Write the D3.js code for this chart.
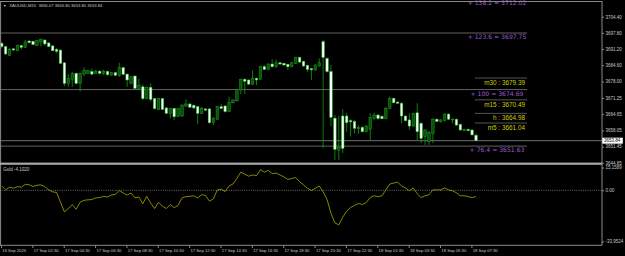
<!DOCTYPE html>
<html><head><meta charset="utf-8">
<script src="https://cdnjs.cloudflare.com/ajax/libs/d3/7.8.5/d3.min.js"></script>
<style>
html,body{margin:0;padding:0;background:#000;overflow:hidden}
svg{display:block}
text{font-family:"Liberation Sans",Arial,sans-serif}
</style></head><body>
<svg id="c" width="625" height="256"></svg>
<script>
const chartTitle = "XAUUSD,M15  3656.07 3656.80 3653.80 3653.84";
const oscTitle = "Gold -4.1020";
const opens = [3693.6,3692.2,3688.7,3691.3,3690.5,3692.6,3691.9,3694.5,3694.4,3692.6,3694.1,3694.9,3693.7,3692.5,3691.1,3690.8,3685.6,3677.2,3678.9,3681.3,3677.2,3681.0,3681.3,3682.0,3681.3,3682.2,3681.3,3682.1,3680.6,3681.6,3680.5,3683.6,3681.0,3677.2,3680.2,3675.2,3675.8,3671.0,3675.6,3671.0,3666.6,3671.0,3667.2,3665.0,3667.0,3663.6,3663.9,3668.0,3668.8,3668.3,3667.7,3665.0,3666.8,3666.8,3661.2,3662.6,3667.7,3668.0,3665.7,3669.3,3670.1,3674.5,3678.9,3678.6,3676.9,3679.3,3678.9,3684.0,3682.9,3685.1,3684.0,3685.6,3685.4,3685.0,3684.0,3685.4,3687.8,3686.2,3684.6,3683.2,3682.7,3684.3,3694.2,3687.4,3682.0,3663.0,3650.0,3663.9,3663.9,3662.0,3661.6,3658.7,3659.3,3657.5,3658.5,3663.0,3664.3,3663.7,3662.8,3667.0,3671.1,3669.6,3669.1,3663.9,3662.3,3659.8,3665.2,3660.9,3655.5,3653.4,3656.8,3662.6,3661.6,3662.0,3664.7,3662.3,3662.6,3660.5,3657.9,3658.5,3658.2,3656.07];
const highs = [3694.1,3692.5,3691.6,3691.6,3693.1,3692.9,3694.9,3694.7,3694.6,3694.9,3695.5,3695.1,3693.9,3692.7,3691.6,3691.0,3685.9,3681.0,3682.0,3681.6,3681.6,3683.8,3682.7,3683.3,3682.7,3682.5,3682.7,3682.3,3681.8,3681.8,3685.6,3683.9,3681.2,3680.2,3680.4,3679.1,3676.8,3675.9,3677.2,3671.2,3671.2,3671.2,3667.4,3667.2,3667.2,3667.2,3668.6,3670.7,3669.2,3668.6,3668.0,3667.6,3667.0,3667.0,3663.5,3668.0,3668.8,3668.2,3671.8,3670.8,3675.1,3679.2,3679.2,3678.8,3682.5,3679.6,3684.3,3684.8,3685.4,3687.0,3687.0,3686.0,3685.6,3685.2,3685.9,3688.1,3688.1,3686.5,3684.8,3683.5,3685.0,3687.4,3694.9,3687.8,3684.7,3664.3,3663.9,3666.6,3665.2,3662.6,3662.3,3660.2,3659.8,3660.2,3665.0,3665.2,3664.7,3664.3,3667.7,3671.8,3671.4,3669.8,3669.6,3664.1,3665.0,3665.2,3669.1,3661.5,3658.6,3657.8,3663.0,3662.9,3662.6,3665.0,3665.0,3663.0,3662.8,3660.8,3658.7,3658.7,3658.5,3656.80];
const lows = [3691.6,3688.8,3688.4,3690.4,3690.4,3691.1,3691.6,3693.6,3692.9,3692.5,3692.2,3692.5,3692.0,3690.4,3689.5,3685.1,3676.1,3675.8,3675.8,3676.9,3673.8,3680.2,3681.0,3680.5,3681.0,3680.8,3680.6,3680.4,3680.4,3680.2,3679.9,3680.6,3675.8,3676.9,3674.9,3675.0,3670.4,3670.7,3669.7,3666.6,3666.4,3666.4,3664.7,3663.0,3662.3,3663.5,3663.5,3667.5,3667.2,3666.7,3660.6,3664.7,3665.9,3660.6,3660.2,3662.3,3666.8,3665.3,3665.5,3669.0,3669.8,3672.9,3672.9,3676.5,3676.5,3676.5,3678.6,3682.7,3682.7,3683.7,3683.4,3684.7,3684.5,3682.7,3683.8,3685.1,3685.6,3684.0,3681.8,3678.6,3682.3,3684.0,3650.9,3681.6,3659.8,3646.0,3646.0,3648.7,3657.5,3655.5,3656.8,3656.6,3657.2,3657.2,3654.1,3662.3,3662.3,3662.5,3662.6,3666.6,3669.1,3668.8,3660.9,3661.7,3658.2,3659.5,3654.1,3652.8,3652.1,3652.1,3652.8,3661.5,3661.2,3661.7,3662.3,3660.9,3659.9,3657.9,3657.7,3657.7,3655.9,3653.80];
const closes = [3692.2,3689.2,3691.1,3690.8,3692.7,3691.9,3694.1,3693.8,3693.0,3694.6,3695.1,3693.3,3692.2,3690.5,3690.3,3685.4,3677.2,3679.1,3681.3,3677.2,3681.3,3682.4,3682.4,3681.0,3682.2,3681.3,3682.2,3680.7,3681.6,3680.5,3683.6,3680.9,3678.6,3679.9,3675.2,3676.5,3671.0,3675.6,3670.7,3666.9,3671.0,3666.6,3665.0,3666.9,3663.6,3666.9,3668.4,3668.8,3667.5,3667.2,3665.0,3667.0,3666.3,3661.2,3663.0,3667.7,3667.0,3665.7,3669.5,3670.4,3674.8,3678.9,3678.1,3676.9,3679.3,3678.6,3684.0,3682.9,3685.1,3684.0,3685.6,3685.1,3684.7,3684.0,3685.6,3687.8,3685.9,3684.3,3682.9,3682.7,3684.7,3685.6,3687.8,3682.0,3663.4,3650.3,3651.1,3650.7,3661.2,3661.5,3658.9,3659.3,3657.5,3659.8,3663.4,3664.3,3662.9,3662.8,3666.9,3671.1,3669.3,3669.1,3663.9,3662.0,3659.8,3665.0,3657.5,3654.8,3658.2,3657.1,3662.6,3661.7,3662.3,3664.7,3662.6,3662.6,3660.2,3658.2,3658.5,3657.9,3656.2,3653.84];
const oscValues = [2.9,0.3,2.1,1.4,2.5,2.1,4.0,3.7,2.5,3.4,3.6,2.5,0.3,-1.0,-1.4,-7.9,-14.3,-12.1,-9.4,-12.6,-7.9,-6.6,-6.3,-6.1,-5.0,-4.8,-4.0,-4.4,-3.1,-2.7,-0.1,-1.8,-3.1,-1.8,-5.0,-4.4,-8.9,-4.0,-8.3,-12.1,-7.9,-10.5,-12.1,-9.4,-11.5,-10.0,-5.0,-4.2,-4.0,-3.6,-5.0,-2.9,-3.4,-7.2,-5.7,0.3,0.8,-0.8,2.9,4.2,7.9,12.1,10.7,9.4,10.2,9.8,13.7,12.1,13.2,11.1,11.5,10.2,8.9,7.2,7.9,8.5,5.7,3.6,1.4,-0.1,1.4,2.9,-1.0,-6.1,-15.2,-21.6,-22.9,-17.8,-13.9,-11.3,-10.0,-8.7,-9.4,-8.1,-4.8,-3.6,-4.2,-3.6,0.3,4.2,4.8,5.5,2.9,1.6,-0.3,1.6,-2.3,-4.8,-3.6,-2.9,0.3,0.3,0.3,1.6,0.3,-0.3,-1.6,-3.6,-3.6,-4.2,-4.8,-4.102];
const timeLabels = ["16 Sep 2025","17 Sep 02:30","17 Sep 04:30","17 Sep 06:30","17 Sep 08:30","17 Sep 10:30","17 Sep 12:30","17 Sep 14:30","17 Sep 16:30","17 Sep 18:30","17 Sep 20:30","17 Sep 22:30","18 Sep 01:30","18 Sep 03:30","18 Sep 05:30","18 Sep 07:30"];
const timeLabelBars = [0,8,16,24,32,40,48,56,64,72,80,88,96,104,112,120];
const priceTicks = [3704.40,3697.80,3691.20,3684.60,3678.00,3671.25,3664.65,3658.05,3651.45,3644.85];
const oscTicks = [15.1589,0,-33.9524];
const oscTickLabels = ["15.1589","0.00","-33.9524"];
const fibLevels = ["138.2","123.6","100","76.4"];
const fibPrices = [3712.02,3697.75,3674.69,3651.63];
const markNames = ["m30","m15","h","m5"];
const markPrices = [3679.39,3670.49,3664.98,3661.04];
const lastPrice = 3653.84;

const svg = d3.select("#c");
const AX = 602, mainTop = 1.5, mainBot = 162.5, subBot = 245.3;
const gray = "#8a8a8a", txt = "#c8c8c8";
const x = d3.scaleLinear().domain([0, opens.length - 1]).range([1.7, 476.02]);
const y = d3.scaleLinear().domain([3644.94, 3710.60]).range([mainBot, mainTop]);
const yo = d3.scaleLinear().domain([-33.9524, 15.1589]).range([241.5, 167.5]);

svg.append("rect").attr("width", 625).attr("height", 256).attr("fill", "#000");
svg.append("clipPath").attr("id", "cm").append("rect")
  .attr("x", 0).attr("y", mainTop).attr("width", AX).attr("height", mainBot - mainTop);
const main = svg.append("g").attr("clip-path", "url(#cm)");

// fib levels
main.selectAll("line.fib").data(fibPrices).join("line")
  .attr("x1", 0).attr("x2", 527).attr("y1", d => y(d)).attr("y2", d => y(d))
  .attr("stroke", "#7a7a7a").attr("stroke-width", 0.8);
// marker lines
main.selectAll("line.mk").data(markPrices).join("line")
  .attr("x1", 475).attr("x2", 527).attr("y1", d => y(d)).attr("y2", d => y(d))
  .attr("stroke", "#6a6a6a").attr("stroke-width", 0.8);
// current price line
main.append("line").attr("x1", 0).attr("x2", AX).attr("y1", y(lastPrice)).attr("y2", y(lastPrice))
  .attr("stroke", "#8a8a8a").attr("stroke-width", 0.8);

// candles
const idx = d3.range(opens.length);
main.selectAll("line.w").data(idx).join("line")
  .attr("x1", i => x(i)).attr("x2", i => x(i))
  .attr("y1", i => y(highs[i])).attr("y2", i => y(lows[i]))
  .attr("stroke", "#12a012").attr("stroke-width", 0.8);
main.selectAll("rect.b").data(idx).join("rect")
  .attr("x", i => x(i) - 1.25).attr("width", 2.5)
  .attr("y", i => y(Math.max(opens[i], closes[i])))
  .attr("height", i => Math.max(0.8, Math.abs(y(opens[i]) - y(closes[i]))))
  .attr("fill", i => closes[i] < opens[i] ? "#f4fff4" : "#0a500a")
  .attr("stroke", i => closes[i] < opens[i] ? "#30c030" : "#18a018")
  .attr("stroke-width", 0.5);

// fib labels (the top one sits at the window edge, as in the reference)
svg.selectAll("text.fib").data(fibLevels).join("text")
  .attr("x", 497).attr("y", (d, i) => Math.max(y(fibPrices[i]) + 6.3, 5.2))
  .attr("text-anchor", "middle").attr("fill", "#a05ad2")
  .style("font-family", "'DejaVu Sans',sans-serif").style("font-size", "6.1px")
  .text((d, i) => "+ " + d + " = " + fibPrices[i].toFixed(2));
// marker labels
svg.selectAll("text.mk").data(markNames).join("text")
  .attr("x", 525).attr("y", (d, i) => y(markPrices[i]) + 6.9)
  .attr("text-anchor", "end").attr("fill", "#cccc00")
  .style("font-size", "6.4px")
  .text((d, i) => d + " : " + markPrices[i].toFixed(2));

// frame
svg.append("line").attr("x1", 0).attr("x2", AX).attr("y1", mainTop).attr("y2", mainTop).attr("stroke", gray).attr("stroke-width", 1);
svg.append("line").attr("x1", 0.6).attr("x2", 0.6).attr("y1", mainTop).attr("y2", subBot).attr("stroke", gray).attr("stroke-width", 1);
svg.append("line").attr("x1", AX).attr("x2", AX).attr("y1", 1).attr("y2", subBot).attr("stroke", gray).attr("stroke-width", 1);
svg.append("rect").attr("x", 0).attr("y", 162.6).attr("width", AX).attr("height", 2.2).attr("fill", "#a8a8a8");
svg.append("line").attr("x1", 0).attr("x2", AX).attr("y1", subBot).attr("y2", subBot).attr("stroke", gray).attr("stroke-width", 1);

// price axis
const pa = svg.append("g").attr("transform", `translate(${AX},0)`)
  .call(d3.axisRight(y).tickValues(priceTicks).tickFormat(d3.format(".2f")).tickSize(2).tickSizeOuter(0).tickPadding(1.5));
pa.select(".domain").remove();
pa.selectAll("line").attr("stroke", gray);
pa.selectAll("text").attr("fill", txt).style("font-size", "4.5px").style("font-family", "'Liberation Sans',Arial,sans-serif");

// last price box
svg.append("rect").attr("x", 602.3).attr("y", y(lastPrice) - 3).attr("width", 20.5).attr("height", 6).attr("fill", "#fff");
svg.append("text").attr("x", 604).attr("y", y(lastPrice) + 1.6).attr("fill", "#000").style("font-size", "4.5px").text(lastPrice.toFixed(2));

// oscillator panel
svg.append("line").attr("x1", 0).attr("x2", AX).attr("y1", yo(0)).attr("y2", yo(0))
  .attr("stroke", "#b0b0b0").attr("stroke-width", 0.6).attr("stroke-dasharray", "1,1.2");
svg.append("path").datum(oscValues)
  .attr("d", d3.line().x((d, i) => x(i)).y(d => yo(d)))
  .attr("fill", "none").attr("stroke", "#a8a800").attr("stroke-width", 0.8);
const oa = svg.append("g").attr("transform", `translate(${AX},0)`)
  .call(d3.axisRight(yo).tickValues(oscTicks).tickFormat((d, i) => oscTickLabels[i]).tickSize(2).tickSizeOuter(0).tickPadding(1.5));
oa.select(".domain").remove();
oa.selectAll("line").attr("stroke", gray);
oa.selectAll("text").attr("fill", txt).style("font-size", "4.5px").style("font-family", "'Liberation Sans',Arial,sans-serif");
svg.append("text").attr("x", 3.3).attr("y", 170.8).attr("fill", txt).style("font-size", "4.5px").text(oscTitle);

// time axis
const ta = svg.append("g").attr("transform", `translate(-0.7,${subBot})`)
  .call(d3.axisBottom(x).tickValues(timeLabelBars).tickFormat((d, i) => timeLabels[i]).tickSize(2.7).tickSizeOuter(0).tickPadding(1));
ta.select(".domain").remove();
ta.selectAll("line").attr("stroke", gray);
ta.selectAll("text").attr("fill", txt).attr("text-anchor", "start").attr("x", 0.8)
  .style("font-size", "4.2px").style("font-family", "'Liberation Sans',Arial,sans-serif");

// title
svg.append("text").attr("x", 3).attr("y", 6.6).attr("fill", txt).style("font-size", "3.6px").text("\u25BC");
svg.append("text").attr("x", 9.3).attr("y", 6.7).attr("fill", txt).style("font-size", "4.2px")
  .style("white-space", "pre").text(chartTitle);
</script>
</body></html>
